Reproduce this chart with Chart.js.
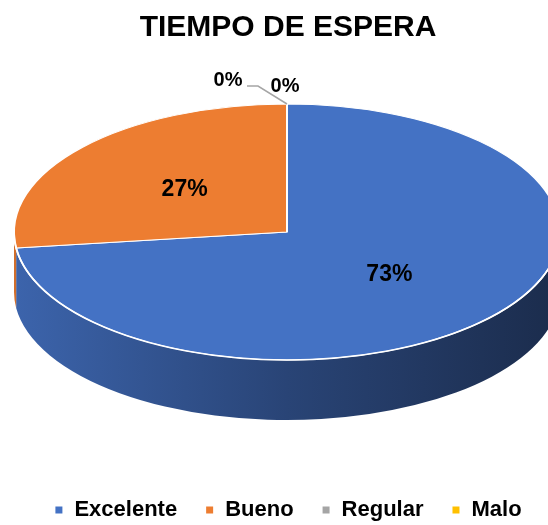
<!DOCTYPE html>
<html>
<head>
<meta charset="utf-8">
<script src="https://cdn.jsdelivr.net/npm/chart.js@4"></script>
<style>
  html, body { margin: 0; background: #fff; }
  #wrap { width: 548px; height: 525px; }
</style>
</head>
<body>
<div id="wrap"><canvas id="chart"></canvas></div>
<script>
const categories = ['Excelente', 'Bueno', 'Regular', 'Malo'];
const values = [73, 27, 0, 0];
const sliceColors = ['#4472C4', '#ED7D31', '#A5A5A5', '#FFC000'];

// tilted pie geometry (screen space)
const CX = 287, CY = 232, RX = 273, RY = 128, DEPTH = 60;
const FONT = "'Liberation Sans', Arial, sans-serif";

function shade(hex, f) {
    const n = parseInt(hex.slice(1), 16);
    const r = Math.round(((n >> 16) & 255) * f);
    const g = Math.round(((n >> 8) & 255) * f);
    const b = Math.round((n & 255) * f);
    return `rgb(${r},${g},${b})`;
}

const pie3d = {
    id: 'pie3d',
    beforeDatasetsDraw(chart) {
        const ctx = chart.ctx;
        const arcs = chart.getDatasetMeta(0).data;

        // side wall: only the front half (0..PI) shows
        arcs.forEach((arc, i) => {
            const a0 = Math.max(arc.startAngle, 0);
            const a1 = Math.min(arc.endAngle, Math.PI);
            if (a1 <= a0) return;
            const grad = ctx.createLinearGradient(CX - RX, 0, CX + RX, 0);
            grad.addColorStop(0, shade(sliceColors[i], 0.88));
            grad.addColorStop(0.5, shade(sliceColors[i], 0.6));
            grad.addColorStop(1, shade(sliceColors[i], 0.39));
            ctx.beginPath();
            ctx.ellipse(CX, CY, RX, RY, 0, a0, a1);
            ctx.ellipse(CX, CY + DEPTH, RX, RY, 0, a1, a0, true);
            ctx.closePath();
            ctx.fillStyle = grad;
            ctx.fill();
        });

        // squash the flat pie into the top face
        const c = arcs[0];
        ctx.save();
        ctx.translate(CX, CY);
        ctx.scale(1, RY / RX);
        ctx.translate(-c.x, -c.y);
    },
    afterDatasetsDraw(chart) {
        const ctx = chart.ctx;
        ctx.restore();
        const arcs = chart.getDatasetMeta(0).data;
        const c = arcs[0];
        const total = values.reduce((a, b) => a + b, 0);
        const toScreen = (x, y) => [CX + (x - c.x), CY + (y - c.y) * RY / RX];

        // white rim along the front edge
        ctx.save();
        ctx.strokeStyle = '#fff';
        ctx.lineWidth = 1.6;
        ctx.beginPath();
        ctx.ellipse(CX, CY, RX, RY, 0, 0, Math.PI);
        ctx.stroke();

        ctx.fillStyle = '#000';
        ctx.textAlign = 'center';
        ctx.textBaseline = 'middle';
        arcs.forEach((arc, i) => {
            const pct = Math.round(values[i] / total * 100) + '%';
            if (values[i] > 0) {
                const p = arc.tooltipPosition();
                const [x, y] = toScreen(p.x, p.y);
                ctx.font = `bold 23px ${FONT}`;
                ctx.fillText(pct, x, y);
            } else {
                const [x, y] = toScreen(arc.x + arc.outerRadius * Math.cos(arc.startAngle),
                                        arc.y + arc.outerRadius * Math.sin(arc.startAngle));
                ctx.font = `bold 20px ${FONT}`;
                if (i === 2) {
                    ctx.strokeStyle = '#A5A5A5';
                    ctx.lineWidth = 1.5;
                    ctx.beginPath();
                    ctx.moveTo(x - 40, y - 18);
                    ctx.lineTo(x - 29, y - 18);
                    ctx.lineTo(x, y);
                    ctx.stroke();
                    ctx.fillText(pct, x - 59, y - 24);
                } else {
                    ctx.fillText(pct, x - 2, y - 18);
                }
            }
        });
        ctx.restore();
    }
};

new Chart(document.getElementById('chart'), {
    type: 'pie',
    data: {
        labels: categories,
        datasets: [{
            data: values,
            backgroundColor: sliceColors,
            borderColor: '#fff',
            borderWidth: 2,
            radius: RX,
            clip: false
        }]
    },
    options: {
        responsive: true,
        maintainAspectRatio: false,
        animation: false,
        layout: { padding: { left: 20, right: -8, bottom: -6 } },
        plugins: {
            title: {
                display: true,
                text: 'TIEMPO DE ESPERA',
                color: '#000',
                font: { family: FONT, size: 30, weight: 'bold' },
                padding: { top: 10, bottom: 10 }
            },
            legend: {
                position: 'bottom',
                labels: {
                    usePointStyle: true,
                    pointStyle: 'rect',
                    boxWidth: 9,
                    boxHeight: 9,
                    padding: 28,
                    color: '#000',
                    font: { family: FONT, size: 22, weight: 'bold' }
                }
            },
            tooltip: { enabled: false }
        }
    },
    plugins: [pie3d]
});
</script>
</body>
</html>
